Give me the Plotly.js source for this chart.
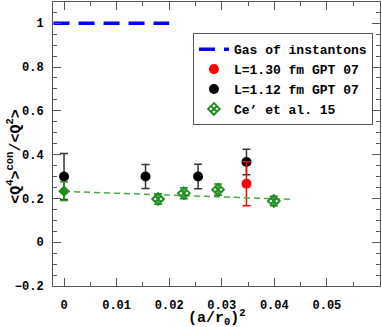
<!DOCTYPE html>
<html>
<head>
<meta charset="utf-8">
<script src="https://cdn.plot.ly/plotly-3.0.1.min.js"></script>
<style>
  html, body { margin: 0; padding: 0; background: #fff; }
  #plot { width: 382px; height: 327px; }
</style>
</head>
<body>
<div id="plot"></div>
<script>
// ---------------------------------------------------------------------------
// values

const gasX = [-0.002, 0.020];
const gasY = [1, 1];

const redX = [0.0347];
const redY = [0.267];
const redErr = [0.100];

const blackX = [0, 0.0155, 0.0255, 0.0347];
const blackY = [0.300, 0.300, 0.300, 0.366];
const blackErr = [0.105, 0.055, 0.056, 0.058];

// first Ce' point (continuum value) is drawn filled, the rest open
const ceX0 = [0];
const ceY0 = [0.233];
const ceErr0 = [0.043];
const ceX = [0.0179, 0.0228, 0.0293, 0.0399];
const ceY = [0.197, 0.224, 0.240, 0.188];
const ceErr = [0.024, 0.025, 0.026, 0.022];

const fitX = [0, 0.043];
const fitY = [0.232, 0.196];

const xTicks = [0, 0.01, 0.02, 0.03, 0.04, 0.05];
const xTickText = ['0', '0.01', '0.02', '0.03', '0.04', '0.05'];
const yTicks = [-0.2, 0, 0.2, 0.4, 0.6, 0.8, 1];
const yTickText = ['−0.2', '0', '0.2', '0.4', '0.6', '0.8', '1'];

// ---------------------------------------------------------------------------

const mono = '"Liberation Mono", "Courier New", monospace';
const green = '#1e8e1e';

const traces = [
  {
    x: gasX, y: gasY, name: 'Gas of instantons', mode: 'lines',
    line: { color: '#0000ff', width: 3.5, dash: '16px,9px' },
    legendrank: 1,
  },
  {
    x: blackX, y: blackY, name: 'L=1.12 fm GPT 07', mode: 'markers',
    marker: { color: '#000', size: 10 },
    error_y: { type: 'data', array: blackErr, color: '#333', thickness: 1.5, width: 4 },
    legendrank: 3,
  },
  {
    x: redX, y: redY, name: 'L=1.30 fm GPT 07', mode: 'markers',
    marker: { color: '#ff0000', size: 10 },
    error_y: { type: 'data', array: redErr, color: '#ff0000', thickness: 1.5, width: 4 },
    legendrank: 2,
  },
  {
    x: fitX, y: fitY, mode: 'lines', showlegend: false,
    line: { color: '#4aaa4a', width: 1.5, dash: '6px,4px' },
  },
  {
    x: ceX0, y: ceY0, mode: 'markers', showlegend: false,
    marker: { color: green, size: 9, symbol: 'diamond' },
    error_y: { type: 'data', array: ceErr0, color: green, thickness: 1.5, width: 4 },
  },
  {
    x: ceX, y: ceY, name: 'Ce’ et al. 15', mode: 'markers',
    marker: { color: green, size: 9, symbol: 'diamond-x-open', line: { width: 2 } },
    error_y: { type: 'data', array: ceErr, color: green, thickness: 1.5, width: 4 },
    legendrank: 4,
  },
];

const axisCommon = {
  showline: true, linecolor: '#555', linewidth: 1, mirror: 'ticks',
  ticks: 'inside', ticklen: 8, tickcolor: '#555', tickwidth: 1,
  showgrid: false, zeroline: false,
  tickfont: { family: mono, size: 12, weight: 'bold', color: '#000' },
};

const titleFont = { family: mono, size: 15, weight: 'bold', color: '#000' };

const layout = {
  width: 382, height: 327,
  margin: { l: 53, r: 2, t: 2, b: 41 },
  paper_bgcolor: '#fff', plot_bgcolor: '#fff',
  font: { family: mono, size: 12, weight: 'bold', color: '#000' },
  xaxis: {
    ...axisCommon,
    range: [-0.0021, 0.0601],
    tickvals: xTicks,
    ticktext: xTickText,
    ticklabelstandoff: 8,
    minor: { dtick: 0.005, tick0: 0, ticks: 'inside', ticklen: 4, tickcolor: '#555', showgrid: false },
  },
  yaxis: {
    ...axisCommon,
    range: [-0.2, 1.097],
    tickvals: yTicks,
    ticktext: yTickText,
    ticklabelstandoff: 6,
    minor: { dtick: 0.05, tick0: 0, ticks: 'inside', ticklen: 4, tickcolor: '#555', showgrid: false },
  },
  annotations: [
    {
      // axis titles placed by hand
      text: '(a/r<sub>0</sub>)<sup>2</sup>',
      xref: 'paper', yref: 'paper', x: 0.5, y: -0.11,
      xanchor: 'center', yanchor: 'middle', showarrow: false,
      font: titleFont,
    },
    {
      text: '&lt;Q<sup>4</sup>&gt;<sup>con</sup>/&lt;Q<sup>2</sup>&gt;',
      xref: 'paper', yref: 'paper', x: -0.119, y: 0.455, textangle: -90,
      xanchor: 'center', yanchor: 'middle', showarrow: false,
      font: titleFont,
    },
  ],
  legend: {
    x: 0.428, y: 0.89, xanchor: 'left', yanchor: 'top',
    bordercolor: '#555', borderwidth: 1, bgcolor: '#fff',
    font: { family: mono, size: 13, weight: 'bold', color: '#000' },
    itemwidth: 30, tracegroupgap: 0,
  },
  showlegend: true,
};

Plotly.newPlot('plot', traces, layout, { displayModeBar: false, staticPlot: true });
</script>
</body>
</html>
